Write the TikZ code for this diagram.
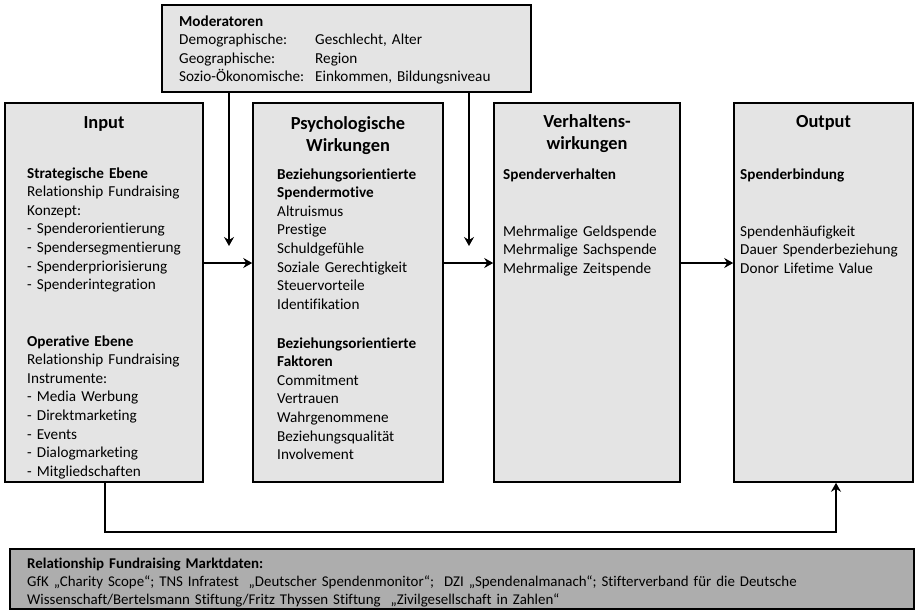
\documentclass[tikz,border=0pt]{standalone}
\usepackage{fontspec}
\setmainfont{Carlito}[Ligatures={TeX,NoCommon}]
\usetikzlibrary{arrows.meta}
\definecolor{boxfill}{HTML}{E4E4E4}
\definecolor{footfill}{HTML}{ADADAD}
\begin{document}
\begin{tikzpicture}[x=1pt,y=-1pt,
  box/.style={draw, line width=1.6pt, fill=boxfill, inner sep=0pt},
  footbox/.style={draw, line width=1.6pt, fill=footfill, inner sep=0pt},
  body/.style={anchor=base west, inner sep=0pt, text width=200pt, align=left,
    font=\fontsize{15.2}{18.6}\selectfont},
  title/.style={anchor=base, inner sep=0pt, text width=180pt, align=center,
    font=\fontsize{18.4}{22}\selectfont\bfseries},
  foot/.style={anchor=base west, inner sep=0pt, text width=880pt, align=left,
    font=\fontsize{14.9}{18.3}\selectfont},
  arr/.style={line width=2.4pt, -{Stealth[length=9pt,width=10pt,inset=3pt]}},
  con/.style={line width=2.4pt}]
\useasboundingbox (0,0) rectangle (916,613);

% boxes
\node[box, minimum width=369pt, minimum height=87pt] (mod) at (346.5,48.5) {};
\node[box, minimum width=198pt, minimum height=379pt] (in) at (104,292.5) {};
\node[box, minimum width=190pt, minimum height=379pt] (psy) at (348,292.5) {};
\node[box, minimum width=186pt, minimum height=379pt] (ver) at (587,292.5) {};
\node[box, minimum width=179pt, minimum height=379pt] (out) at (823.5,292.5) {};
\node[footbox, minimum width=904pt, minimum height=60pt] (foot) at (462,579) {};

% Moderatoren
\node[body] (modt) at (179,26) {\textbf{Moderatoren}\\Demographische:\\Geographische:\\Sozio-Ökonomische:};
\node[body] (modv) at (315,44.6) {Geschlecht, Alter\\Region\\Einkommen, Bildungsniveau};

% Input
\node[title] (int) at (104,128) {Input};
\node[body] (in1) at (27,178) {\textbf{Strategische Ebene}\\Relationship Fundraising\\Konzept:\\- Spenderorientierung\\- Spendersegmentierung\\- Spenderpriorisierung\\- Spenderintegration};
\node[body] (in2) at (27,346) {\textbf{Operative Ebene}\\Relationship Fundraising\\Instrumente:\\- Media Werbung\\- Direktmarketing\\- Events\\- Dialogmarketing\\- Mitgliedschaften};

% Psychologische Wirkungen
\node[title] (psyt) at (348,129) {Psychologische\\Wirkungen};
\node[body] (psy1) at (277,179) {\textbf{Beziehungsorientierte}\\\textbf{Spendermotive}\\Altruismus\\Prestige\\Schuldgefühle\\Soziale Gerechtigkeit\\Steuervorteile\\Identifikation};
\node[body] (psy2) at (277,348) {\textbf{Beziehungsorientierte}\\\textbf{Faktoren}\\Commitment\\Vertrauen\\Wahrgenommene\\Beziehungsqualität\\Involvement};

% Verhaltenswirkungen
\node[title] (vert) at (587,127) {Verhaltens-\\wirkungen};
\node[body] (ver1) at (503,179) {\textbf{Spenderverhalten}};
\node[body] (ver2) at (503,236) {Mehrmalige Geldspende\\Mehrmalige Sachspende\\Mehrmalige Zeitspende};

% Output
\node[title] (outt) at (823.5,127) {Output};
\node[body] (out1) at (740,179) {\textbf{Spenderbindung}};
\node[body] (out2) at (740,236) {Spendenhäufigkeit\\Dauer Spenderbeziehung\\Donor Lifetime Value};

% Footer
\node[foot] (ft) at (27,568) {\textbf{Relationship Fundraising Marktdaten:}\\GfK „Charity Scope“; TNS Infratest \ „Deutscher Spendenmonitor“; \ DZI „Spendenalmanach“; Stifterverband für die Deutsche\\Wissenschaft/Bertelsmann Stiftung/Fritz Thyssen Stiftung \ „Zivilgesellschaft in Zahlen“};

% connectors
\coordinate (m1) at (229,246);
\coordinate (m2) at (469,246);
\coordinate (h) at (0,263);
\coordinate (b1) at (105,532);
\coordinate (b2) at (836,532);
\draw[arr] (mod.south -| m1) -- (m1);
\draw[arr] (mod.south -| m2) -- (m2);
\draw[arr] (in.east |- h) -- (psy.west |- h);
\draw[arr] (psy.east |- h) -- (ver.west |- h);
\draw[arr] (ver.east |- h) -- (out.west |- h);
\draw[arr] (in.south -| b1) -- (b1) -- (b2) -- (out.south -| b2);
\end{tikzpicture}
\end{document}
